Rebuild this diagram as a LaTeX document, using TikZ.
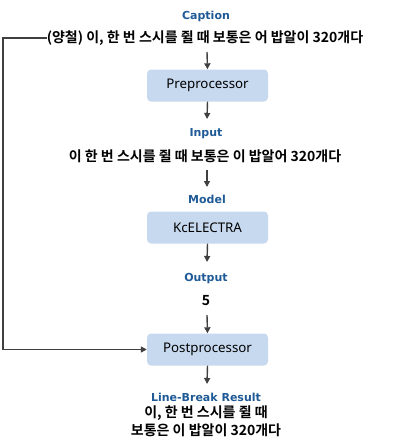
\documentclass[tikz,border=0pt]{standalone}
\usepackage{fontspec}
\setmainfont{Noto Sans}
\newfontfamily\kr{Noto Sans CJK KR}[BoldFont={* Bold}]
\newfontfamily\lab{DejaVu Sans}
\usetikzlibrary{arrows.meta}
\definecolor{boxblue}{HTML}{C6D9EF}
\definecolor{labblue}{HTML}{1F5A96}
\definecolor{arr}{HTML}{404040}
\begin{document}
\begin{tikzpicture}[x=1pt,y=-1pt,
  procbox/.style={fill=boxblue,rounded corners=4pt,minimum width=121pt,minimum height=32pt,inner sep=0pt,font=\fontsize{13.3}{15}\selectfont},
  lbl/.style={text=labblue,font=\lab\bfseries\fontsize{11}{12}\selectfont,inner sep=0pt},
  krtext/.style={font=\kr\bfseries\fontsize{14}{18}\selectfont,inner sep=0pt,align=center},
  flow/.style={draw=arr,line width=1.4pt,-{Triangle[length=6pt,width=6pt]}}]
\useasboundingbox (0,0) rectangle (402,445);
\node[lbl] (capl) at (206,16) {Caption};
\node[krtext] (cap) at (205,38) {(양철) 이, 한 번 스시를 쥘 때 보통은 어 밥알이 320개다};
\node[procbox] (pre) at (207.5,85.5) {Preprocessor};
\node[lbl] (inl) at (206,134) {Input};
\node[krtext] (inp) at (205,156) {이 한 번 스시를 쥘 때 보통은 이 밥알어 320개다};
\node[lbl] (modl) at (207,199) {Model};
\node[procbox] (mod) at (207.5,227.5) {KcELECTRA};
\node[lbl] (outl) at (206,279) {Output};
\node[krtext] (out) at (206,301) {5};
\node[procbox] (post) at (207.5,349.5) {Postprocessor};
\node[lbl] (resl) at (206,397) {Line-Break Result};
\node[krtext] (res) at (206,421.5) {이, 한 번 스시를 쥘 때\\보통은 이 밥알이 320개다};
\coordinate (c1) at (3,38);
\coordinate (c2) at (3,349.5);
\draw[flow] (207,52) -- (pre.north);
\draw[flow] (pre.south) -- (207,119);
\draw[flow] (207,170) -- (207,187);
\draw[flow] (mod.south) -- (207,262);
\draw[flow] (207,315) -- (post.north);
\draw[flow] (post.south) -- (207,384);
\draw[draw=arr,line width=1.4pt] (cap.west) -- (c1) -- (c2);
\draw[flow] (c2) -- (post.west);
\end{tikzpicture}
\end{document}
